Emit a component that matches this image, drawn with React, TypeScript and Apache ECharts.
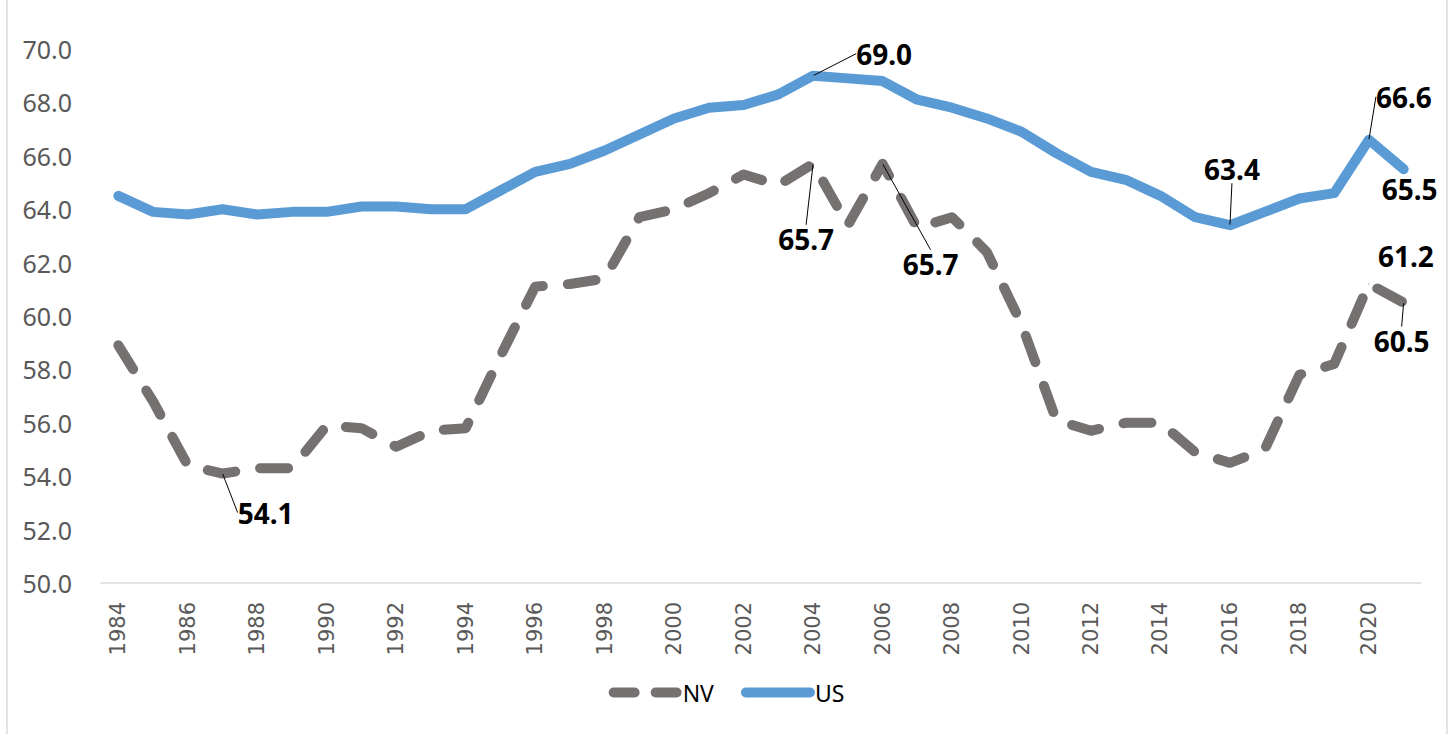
import React, { useEffect, useRef } from "react";
import * as echarts from "echarts";

const years = [
  "1984", "1985", "1986", "1987", "1988", "1989", "1990", "1991", "1992", "1993",
  "1994", "1995", "1996", "1997", "1998", "1999", "2000", "2001", "2002", "2003",
  "2004", "2005", "2006", "2007", "2008", "2009", "2010", "2011", "2012", "2013",
  "2014", "2015", "2016", "2017", "2018", "2019", "2020", "2021",
];

const nvValues = [
  58.9, 56.8, 54.4, 54.1, 54.3, 54.3, 55.9, 55.8, 55.1, 55.7,
  55.8, 58.5, 61.1, 61.2, 61.4, 63.7, 64.0, 64.6, 65.3, 64.9,
  65.7, 63.4, 65.7, 63.3, 63.7, 62.4, 59.7, 56.1, 55.7, 56.0,
  56.0, 54.9, 54.5, 55.0, 57.8, 58.2, 61.2, 60.5,
];

const usValues = [
  64.5, 63.9, 63.8, 64.0, 63.8, 63.9, 63.9, 64.1, 64.1, 64.0,
  64.0, 64.7, 65.4, 65.7, 66.2, 66.8, 67.4, 67.8, 67.9, 68.3,
  69.0, 68.9, 68.8, 68.1, 67.8, 67.4, 66.9, 66.1, 65.4, 65.1,
  64.5, 63.7, 63.4, 63.9, 64.4, 64.6, 66.6, 65.5,
];

const yMin = 50;
const yMax = 70;
const yInterval = 2;

// labelled years (data label placement offsets: dx, dy, show leader line)
const nvLabelled: Record<string, [number, number, boolean]> = {
  "1987": [43, 39, true],
  "2004": [-7, 75, true],
  "2006": [48, 100, true],
  "2020": [37, -28, false],
  "2021": [-2, 38, true],
};
const usLabelled: Record<string, [number, number, boolean]> = {
  "2004": [71, -22, true],
  "2016": [2, -56, true],
  "2020": [35, -43, true],
  "2021": [6, 20, false],
};

function buildData(values: number[], labelled: Record<string, [number, number, boolean]>) {
  return values.map((v, i) => {
    const cfg = labelled[years[i]];
    if (!cfg) return { value: v, symbolSize: 0 };
    return {
      value: v,
      symbolSize: 1,
      label: { show: true },
      labelLine: { show: cfg[2] },
    };
  });
}

export default function App() {
  const ref = useRef<HTMLDivElement>(null);
  useEffect(() => {
    if (!ref.current) return;
    const chart = echarts.init(ref.current, undefined, { renderer: "svg" });
    const labelText = {
      show: false,
      position: "inside",
      formatter: (p: any) => Number(p.value).toFixed(1),
      fontFamily: "Noto Sans",
      fontWeight: "bold",
      fontSize: 28,
      color: "#000000",
    };
    const labelLine = {
      show: false,
      lineStyle: { color: "#000000", width: 1 },
    };
    const layoutFor = (labelled: Record<string, [number, number, boolean]>) => (params: any) => {
      const cfg = labelled[years[params.dataIndex]];
      if (!cfg) return {};
      return { dx: cfg[0], dy: cfg[1] };
    };
    chart.setOption({
      animation: false,
      grid: { left: 101, right: 32, top: 49, bottom: 151 },
      xAxis: {
        type: "category",
        data: years,
        boundaryGap: true,
        axisTick: { show: false },
        axisLine: { lineStyle: { color: "#D9D9D9", width: 1.5 } },
        axisLabel: {
          interval: 1,
          rotate: 90,
          margin: 19,
          color: "#595959",
          fontFamily: "DejaVu Sans",
          fontSize: 21,
        },
        splitLine: { show: false },
      },
      yAxis: {
        type: "value",
        min: yMin,
        max: yMax,
        interval: yInterval,
        axisLine: { show: false },
        axisTick: { show: false },
        splitLine: { show: false },
        axisLabel: {
          margin: 29,
          color: "#595959",
          fontFamily: "Noto Sans",
          fontSize: 25,
          formatter: (v: number) => v.toFixed(1),
        },
      },
      legend: {
        left: "center",
        top: 676,
        itemWidth: 64,
        itemHeight: 10,
        itemGap: 27,
        textStyle: { fontFamily: "Noto Sans", fontSize: 23, color: "#000000" },
        itemStyle: { opacity: 0 },
        lineStyle: { width: 10, cap: "round" },
        data: [
          { name: "NV", lineStyle: { type: [21, 21], dashOffset: 0, width: 10, cap: "round" } },
          { name: "US", lineStyle: { width: 10, cap: "round" } },
        ],
      },
      graphic: [
        { type: "line", shape: { x1: 7, y1: 0, x2: 7, y2: 734 }, style: { stroke: "#D9D9D9", lineWidth: 1.5 } },
        { type: "line", shape: { x1: 1447, y1: 0, x2: 1447, y2: 734 }, style: { stroke: "#D9D9D9", lineWidth: 1.5 } },
      ],
      series: [
        {
          name: "NV",
          type: "line",
          data: buildData(nvValues, nvLabelled),
          showAllSymbol: true,
          symbol: "circle",
          itemStyle: { color: "#767171" },
          lineStyle: { color: "#767171", width: 10, type: [28, 25.1], dashOffset: 0, cap: "round", join: "round" },
          label: labelText,
          labelLine,
          labelLayout: layoutFor(nvLabelled),
          emphasis: { disabled: true },
          silent: true,
          z: 2,
        },
        {
          name: "US",
          type: "line",
          data: buildData(usValues, usLabelled),
          showAllSymbol: true,
          symbol: "circle",
          itemStyle: { color: "#5B9BD5" },
          lineStyle: { color: "#5B9BD5", width: 10, cap: "round", join: "round" },
          label: labelText,
          labelLine,
          labelLayout: layoutFor(usLabelled),
          emphasis: { disabled: true },
          silent: true,
          z: 3,
        },
      ],
    });
    return () => chart.dispose();
  }, []);
  return (
    <div
      ref={ref}
      style={{ position: "absolute", left: 0, top: 0, width: 1453, height: 734, background: "#ffffff" }}
    />
  );
}
